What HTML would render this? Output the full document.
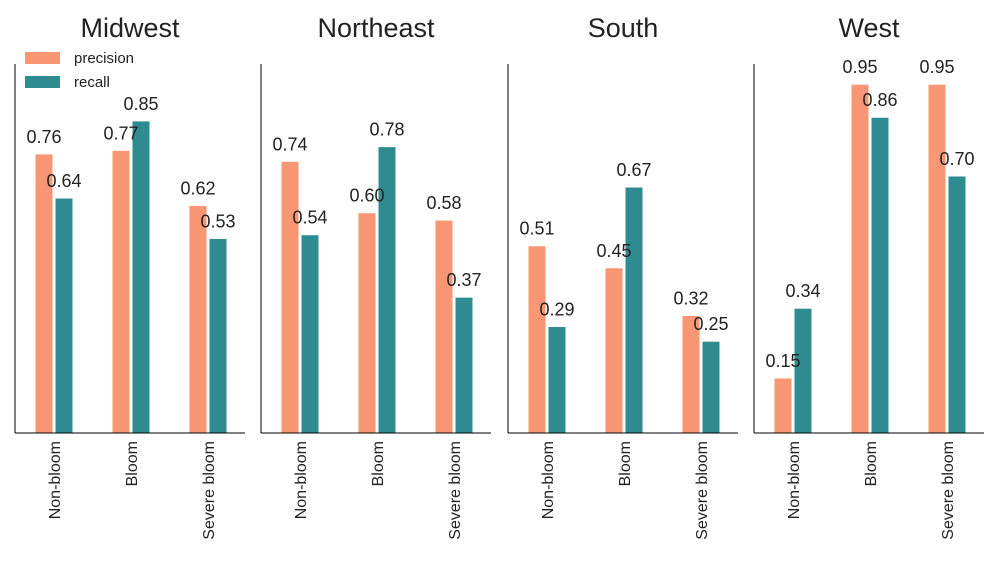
<!DOCTYPE html>
<html><head><meta charset="utf-8"><style>
body{margin:0;background:#fff;font-family:"Liberation Sans",sans-serif}
svg text{font-family:"Liberation Sans",sans-serif;fill:#222}
</style></head><body>
<svg id="c" width="1000" height="562" xmlns="http://www.w3.org/2000/svg"></svg>
<script>
const regions=["Midwest","Northeast","South","West"];
const categories=["Non-bloom","Bloom","Severe bloom"];
const precision=[[0.76,0.77,0.62],[0.74,0.60,0.58],[0.51,0.45,0.32],[0.15,0.95,0.95]];
const recall=[[0.64,0.85,0.53],[0.54,0.78,0.37],[0.29,0.67,0.25],[0.34,0.86,0.70]];
const seriesNames=["precision","recall"];
const colors=["#F99673","#2E8B8F"];
const svgEl=document.getElementById('c');
const NS="http://www.w3.org/2000/svg";
function mk(t,a,p){const e=document.createElementNS(NS,t);for(const k in a)e.setAttribute(k,a[k]);(p||svgEl).appendChild(e);return e;}
const panelX=[15,261,508,754],pw=230,plotBottom=433,plotTop=64,ymax=1.005;
const yScale=v=>plotBottom-v/ymax*(plotBottom-plotTop);
const bw=18;
regions.forEach((r,pi)=>{
  const g=mk('g',{});
  
  
  const x0=panelX[pi];
  const t=mk('text',{x:x0+pw/2,y:37,'text-anchor':'middle','font-size':27},g);t.textContent=r;
  
  const labels=[];
  categories.forEach((c,ci)=>{
    const cx=x0+39+ci*77;
    [precision[pi][ci],recall[pi][ci]].forEach((v,si)=>{
      const bxp=si===0?cx-bw-1:cx+1;
      const rect=mk('rect',{x:bxp,y:yScale(v),width:bw,height:plotBottom-yScale(v),fill:colors[si],stroke:'#fff','stroke-width':1},g);
      
      
      labels.push([bxp+bw/2,yScale(v)-11,v]);
    });
    const tl=mk('text',{transform:`translate(${cx+6},441) rotate(-90)`,'text-anchor':'end','font-size':16},g);
    tl.textContent=c;
    
  });
  labels.forEach(l=>{
    const lt=mk('text',{x:l[0],y:l[1],'text-anchor':'middle','font-size':18},g);
    lt.textContent=l[2].toFixed(2);
    
  });
  const ax=mk('line',{x1:x0,y1:plotTop,x2:x0,y2:plotBottom,stroke:'#000','stroke-width':1},g);
  
  const bx=mk('line',{x1:x0,y1:plotBottom,x2:x0+pw,y2:plotBottom,stroke:'#000','stroke-width':1},g);
  
});
const lg=mk('g',{});

seriesNames.forEach((s,i)=>{
  const yy=52+i*24;
  const r=mk('rect',{x:25,y:yy,width:35,height:12,fill:colors[i]},lg);
  
  const t=mk('text',{x:74,y:yy+11,'font-size':15},lg);t.textContent=s;
  
});
</script>
</body></html>
